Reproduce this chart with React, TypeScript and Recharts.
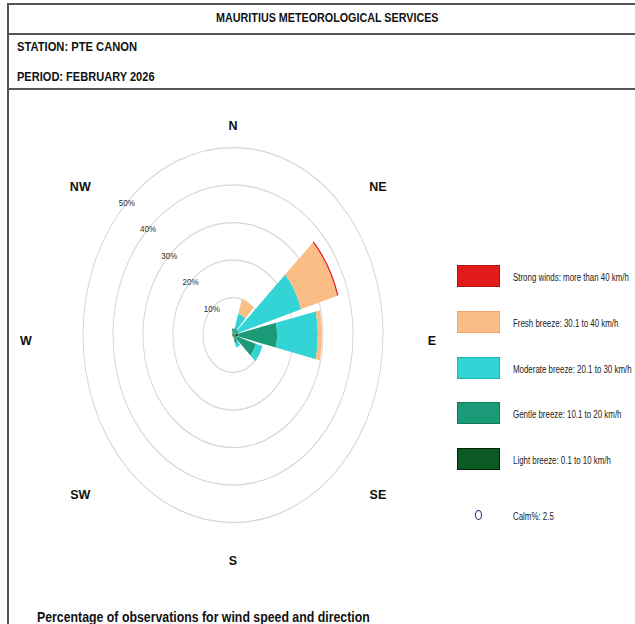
import React from 'react';
import {
  RadialBarChart,
  RadialBar,
  RadarChart,
  Radar,
  PolarGrid,
  PolarAngleAxis,
  PolarRadiusAxis,
  Legend,
} from 'recharts';

// ---- data ----
const sectors = ['0', '30', '60', '90', '120', '150', '180', '210', '240', '270', '300', '330'];
const light = [0.7, 0.5, 0.5, 1.8, 1.0, 0.8, 0.3, 0.4, 0.3, 0.3, 0.3, 0.5];
const gentle = [1.0, 1.5, 1.5, 12.9, 7.0, 1.5, 0, 0, 0, 0, 0, 0];
const moderate = [0, 4.0, 21.7, 13.6, 2.2, 1.2, 0, 0, 0, 0, 0, 0];
const fresh = [0, 4.0, 12.6, 1.4, 0, 0, 0, 0, 0, 0, 0, 0];
const strong = [0, 0, 0.4, 0, 0, 0, 0, 0, 0, 0, 0, 0];

const compassLabels = ['N', 'NE', 'E', 'SE', 'S', 'SW', 'W', 'NW'];
const ringTicks = [10, 20, 30, 40, 50];

const seriesKeys = ['light', 'gentle', 'moderate', 'fresh', 'strong'];
const seriesNames = [
  'Light breeze: 0.1 to 10 km/h',
  'Gentle breeze: 10.1 to 20 km/h',
  'Moderate breeze: 20.1 to 30 km/h',
  'Fresh breeze: 30.1 to 40 km/h',
  'Strong winds: more than 40 km/h',
];
const seriesColors = ['#0b5a23', '#1b9a78', '#33d4d6', '#fbbd86', '#e31a1c'];
const seriesBorders = ['#02200a', '#147a5c', '#1fb3b3', '#eea46a', '#b01015'];
const calmPercent = 2.5;

const title = 'MAURITIUS METEOROLOGICAL SERVICES';
const station = 'STATION: PTE CANON';
const period = 'PERIOD: FEBRUARY 2026';
const footer = 'Percentage of observations for wind speed and direction';

const data = sectors.map((dir, i) => ({
  dir,
  light: light[i],
  gentle: gentle[i],
  moderate: moderate[i],
  fresh: fresh[i],
  strong: strong[i],
}));
const compassData = compassLabels.map((label) => ({ label, v: 0 }));

// ---- layout ----
const K = 1.25; // vertical stretch of the rose
const CX = 233;
const CY = 268;
const SANS = "'Liberation Sans', Arial, sans-serif";
const NX = 0.86; // horizontal condensing for the narrow look

const RadiusTick = (props: any) => {
  const { x, y, payload } = props;
  return (
    <text
      transform={`translate(${x},${y}) scale(0.85,${1 / K})`}
      textAnchor="middle"
      dominantBaseline="central"
      fontSize={9.5}
      fill="#2a2a2a"
      fontFamily={SANS}
    >
      {payload.value}%
    </text>
  );
};

const CompassTick = (props: any) => {
  const { x, y, payload } = props;
  const dx = x - CX;
  const dy = y - CY;
  const len = Math.hypot(dx, dy) || 1;
  const ux = Math.abs(dx / len) < 1e-6 ? 0 : dx / len;
  const uy = Math.abs(dy / len) < 1e-6 ? 0 : dy / len;
  const horizontal = Math.abs(uy) < 0.1;
  const L = horizontal ? (ux < 0 ? 207 : 199) : ux < 0 ? 216 : 205;
  const V = uy < 0 ? 209 : 226;
  const tx = CX + ux * L;
  const ty = CY + (uy * V + (horizontal ? 6 : 0)) / K;
  return (
    <text
      transform={`translate(${tx},${ty}) scale(1,${1 / K})`}
      textAnchor="middle"
      dominantBaseline="central"
      fontSize={12.5}
      fontWeight="bold"
      fill="#111"
      fontFamily={SANS}
    >
      {payload.value}
    </text>
  );
};

const narrowSpan = (text: string, size: number, weight: string, origin: string, sx = NX) => (
  <span
    style={{
      display: 'inline-block',
      transform: `scaleX(${sx})`,
      transformOrigin: origin,
      fontFamily: SANS,
      fontWeight: weight as any,
      fontSize: size,
      whiteSpace: 'nowrap',
    }}
  >
    {text}
  </span>
);

const LegendContent = () => {
  const order = [4, 3, 2, 1, 0];
  return (
    <div style={{ position: 'relative', width: 180, height: 260 }}>
      {order.map((si, row) => (
        <div
          key={seriesKeys[si]}
          style={{
            position: 'absolute',
            left: 0,
            top: row * 45.75,
            height: 22,
            display: 'flex',
            alignItems: 'center',
            whiteSpace: 'nowrap',
            color: '#222',
          }}
        >
          <div
            style={{
              width: 43,
              height: 22,
              flex: 'none',
              boxSizing: 'border-box',
              background: seriesColors[si],
              border: `1.5px solid ${seriesBorders[si]}`,
            }}
          />
          <div style={{ marginLeft: 13 }}>{narrowSpan(seriesNames[si], 10, 'normal', 'left center', 0.79)}</div>
        </div>
      ))}
      <div
        style={{
          position: 'absolute',
          left: 0,
          top: 239,
          height: 22,
          display: 'flex',
          alignItems: 'center',
          whiteSpace: 'nowrap',
          color: '#222',
        }}
      >
        <div style={{ width: 43, flex: 'none', display: 'flex', justifyContent: 'center' }}>
          <div
            style={{
              width: 7,
              height: 10,
              boxSizing: 'border-box',
              borderRadius: '50%',
              border: '1.6px solid #1b1f6e',
            }}
          />
        </div>
        <div style={{ marginLeft: 13 }}>{narrowSpan(`Calm%: ${calmPercent}`, 10, 'normal', 'left center', 0.79)}</div>
      </div>
    </div>
  );
};

const lineColor = '#555';

export default function App() {
  return (
    <div
      style={{
        position: 'absolute',
        left: 0,
        top: 0,
        width: 635,
        height: 624,
        background: '#fff',
        overflow: 'hidden',
        color: '#111',
      }}
    >
      <style>{`.rose-wrap .recharts-wrapper > svg { transform: scaleY(${K}); transform-origin: 0 0; overflow: visible; }`}</style>
      {/* frame */}
      <div style={{ position: 'absolute', left: 7, top: 3, width: 640, height: 1.5, background: lineColor }} />
      <div style={{ position: 'absolute', left: 7, top: 3, width: 1.5, height: 640, background: lineColor }} />
      <div style={{ position: 'absolute', left: 7, top: 33, width: 640, height: 1.5, background: lineColor }} />
      <div style={{ position: 'absolute', left: 7, top: 88, width: 640, height: 1.5, background: lineColor }} />
      <div style={{ position: 'absolute', left: 7, width: 640, top: 9, textAlign: 'center', lineHeight: '15px' }}>
        {narrowSpan(title, 12.5, 'bold', 'center center')}
      </div>
      <div style={{ position: 'absolute', left: 17, top: 38, lineHeight: '16px' }}>
        {narrowSpan(station, 13, 'bold', 'left center')}
      </div>
      <div style={{ position: 'absolute', left: 17, top: 68, lineHeight: '16px' }}>
        {narrowSpan(period, 13, 'bold', 'left center', 0.85)}
      </div>
      <div style={{ position: 'absolute', left: 37, top: 608, lineHeight: '17px' }}>
        {narrowSpan(footer, 14, 'bold', 'left center', 0.88)}
      </div>
      <div className="rose-wrap" style={{ position: 'absolute', left: 0, top: 0 }}>
        <RadialBarChart
          width={635}
          height={480}
          data={data}
          cx={CX}
          cy={CY}
          innerRadius={0}
          outerRadius={150}
          startAngle={75}
          endAngle={-285}
          layout="centric"
          barCategoryGap="6%"
          margin={{ top: 0, right: 0, bottom: 0, left: 0 }}
        >
          <PolarGrid gridType="circle" radialLines={false} stroke="#d6d6d6" strokeWidth={1} />
          <PolarAngleAxis dataKey="dir" type="category" tick={false} axisLine={false} tickLine={false} />
          <PolarRadiusAxis
            type="number"
            domain={[0, 50]}
            allowDataOverflow
            ticks={ringTicks}
            angle={135}
            axisLine={false}
            tickLine={false}
            tick={(p: any) => <RadiusTick {...p} />}
          />
          {seriesKeys.map((k, i) => (
            <RadialBar
              key={k}
              dataKey={k}
              name={seriesNames[i]}
              stackId="a"
              fill={seriesColors[i]}
              isAnimationActive={false}
            />
          ))}
          <Legend
            content={() => <LegendContent />}
            layout="vertical"
            align="right"
            verticalAlign="middle"
            wrapperStyle={{ position: 'absolute', left: 457, top: 265, width: 180 }}
          />
        </RadialBarChart>
      </div>
      <div className="rose-wrap" style={{ position: 'absolute', left: 0, top: 0, pointerEvents: 'none' }}>
        <RadarChart
          width={635}
          height={480}
          data={compassData}
          cx={CX}
          cy={CY}
          outerRadius={150}
          startAngle={90}
          endAngle={-270}
          margin={{ top: 0, right: 0, bottom: 0, left: 0 }}
        >
          <PolarAngleAxis
            dataKey="label"
            axisLine={false}
            tickLine={false}
            tick={(p: any) => <CompassTick {...p} />}
          />
          <PolarRadiusAxis domain={[0, 50]} tick={false} axisLine={false} />
          <Radar dataKey="v" stroke="none" fill="none" isAnimationActive={false} />
        </RadarChart>
      </div>
    </div>
  );
}
